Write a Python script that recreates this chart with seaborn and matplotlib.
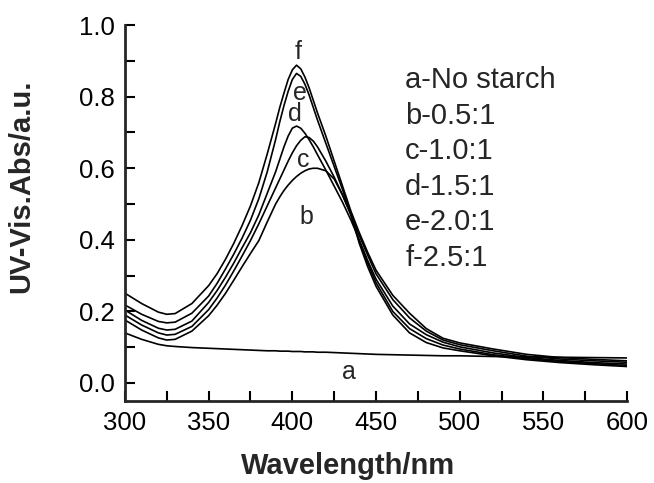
import pandas as pd
import numpy as np
import seaborn as sns
import matplotlib.pyplot as plt
from matplotlib.ticker import MultipleLocator

# wavelengths (nm)
wavelength = [300, 310, 320, 325, 330, 340, 350, 355, 360, 365, 370, 375, 380, 385,
              390, 392.5, 395, 397.5, 400, 402.5, 405, 407.5, 410, 412.5, 415, 420,
              425, 430, 435, 440, 445, 450, 460, 470, 480, 490, 500, 520, 540, 560,
              580, 600]

# absorbance of each sample (a = no starch, b..f = starch ratio)
abs_a = [0.140, 0.122, 0.108, 0.104, 0.102, 0.099, 0.097, 0.096, 0.095, 0.094, 0.093, 0.092, 0.091, 0.090,
         0.090, 0.089, 0.089, 0.089, 0.088, 0.088, 0.088, 0.087, 0.087, 0.087, 0.086, 0.086,
         0.085, 0.084, 0.083, 0.082, 0.081, 0.080, 0.079, 0.078, 0.077, 0.076, 0.076, 0.074, 0.073, 0.072,
         0.071, 0.070]
abs_b = [0.176, 0.148, 0.126, 0.120, 0.122, 0.145, 0.188, 0.217, 0.250, 0.287, 0.325, 0.362, 0.398, 0.450,
         0.500, 0.520, 0.538, 0.553, 0.566, 0.577, 0.586, 0.593, 0.598, 0.600, 0.600, 0.593,
         0.570, 0.525, 0.470, 0.390, 0.325, 0.270, 0.190, 0.140, 0.113, 0.098, 0.090, 0.076, 0.065, 0.057,
         0.051, 0.046]
abs_c = [0.190, 0.162, 0.140, 0.134, 0.136, 0.158, 0.205, 0.237, 0.273, 0.313, 0.355, 0.398, 0.445, 0.495,
         0.545, 0.570, 0.595, 0.620, 0.643, 0.663, 0.678, 0.688, 0.686, 0.676, 0.660, 0.620,
         0.575, 0.525, 0.470, 0.395, 0.335, 0.280, 0.200, 0.152, 0.124, 0.106, 0.095, 0.079, 0.068, 0.060,
         0.054, 0.049]
abs_d = [0.204, 0.175, 0.153, 0.148, 0.150, 0.173, 0.225, 0.258, 0.295, 0.335, 0.378, 0.420, 0.470, 0.530,
         0.590, 0.625, 0.660, 0.690, 0.712, 0.718, 0.712, 0.698, 0.680, 0.660, 0.638, 0.595,
         0.550, 0.505, 0.455, 0.400, 0.342, 0.290, 0.215, 0.165, 0.135, 0.114, 0.101, 0.084, 0.071, 0.063,
         0.057, 0.053]
abs_e = [0.218, 0.192, 0.172, 0.168, 0.170, 0.195, 0.243, 0.278, 0.318, 0.360, 0.405, 0.455, 0.515, 0.590,
         0.680, 0.730, 0.775, 0.815, 0.848, 0.865, 0.857, 0.835, 0.805, 0.770, 0.735, 0.670,
         0.605, 0.540, 0.470, 0.412, 0.357, 0.305, 0.233, 0.182, 0.145, 0.120, 0.107, 0.090, 0.075, 0.067,
         0.062, 0.058]
abs_f = [0.251, 0.222, 0.198, 0.192, 0.194, 0.222, 0.272, 0.305, 0.345, 0.390, 0.440, 0.495, 0.560, 0.640,
         0.725, 0.770, 0.810, 0.848, 0.875, 0.888, 0.878, 0.855, 0.825, 0.790, 0.755, 0.690,
         0.620, 0.550, 0.480, 0.420, 0.365, 0.315, 0.245, 0.195, 0.152, 0.125, 0.112, 0.095, 0.080, 0.071,
         0.066, 0.062]

samples = ['a', 'b', 'c', 'd', 'e', 'f']
legend_lines = ['a-No starch', 'b-0.5:1', 'c-1.0:1', 'd-1.5:1', 'e-2.0:1', 'f-2.5:1']

# letter labels next to the curves (wavelength, absorbance)
letter_x = [434, 408.4, 406.3, 401.4, 404.4, 403.3]
letter_y = [0.03, 0.465, 0.623, 0.751, 0.809, 0.925]

# long table for seaborn
df = pd.DataFrame({
    'wavelength': wavelength * 6,
    'absorbance': abs_a + abs_b + abs_c + abs_d + abs_e + abs_f,
    'sample': np.repeat(samples, len(wavelength)),
})

sns.set_style('ticks')
plt.rcParams['font.family'] = ['Liberation Sans', 'DejaVu Sans']

fig = plt.figure(figsize=(6.54, 4.83), dpi=100)
ax = fig.add_axes([0.191, 0.170, 0.768, 0.778])

sns.lineplot(data=df, x='wavelength', y='absorbance', hue='sample',
             palette=['black'] * 6, linewidth=1.2, legend=False, ax=ax)

ax.set_xlim(300, 600)
ax.set_ylim(-0.05, 1.0)
ax.xaxis.set_major_locator(MultipleLocator(50))
ax.xaxis.set_minor_locator(MultipleLocator(25))
ax.yaxis.set_major_locator(MultipleLocator(0.2))
ax.yaxis.set_minor_locator(MultipleLocator(0.1))
ax.yaxis.set_major_formatter(plt.FormatStrFormatter('%.1f'))

sns.despine(ax=ax)
ax.spines['left'].set_linewidth(2)
ax.spines['bottom'].set_linewidth(2)
ax.tick_params(which='both', direction='in', width=1.5, length=7, colors='black')
ax.tick_params(which='major', labelsize=18.5, pad=7)

ax.set_xlabel('Wavelength/nm', fontsize=21, fontweight='bold')
ax.set_ylabel('UV-Vis.Abs/a.u.', fontsize=21, fontweight='bold')
ax.xaxis.set_label_coords(0.444, -0.136)
ax.yaxis.set_label_coords(-0.178, 0.57)

# curve letters
for s, lx, ly in zip(samples, letter_x, letter_y):
    ax.text(lx, ly, s, fontsize=18, ha='center', va='center')

# legend text block
for i, t in enumerate(legend_lines):
    ax.text(0.558, 0.854 - i * 0.0947, t, transform=ax.transAxes,
            fontsize=21, ha='left', va='center')

plt.savefig('out.png', dpi=100)
